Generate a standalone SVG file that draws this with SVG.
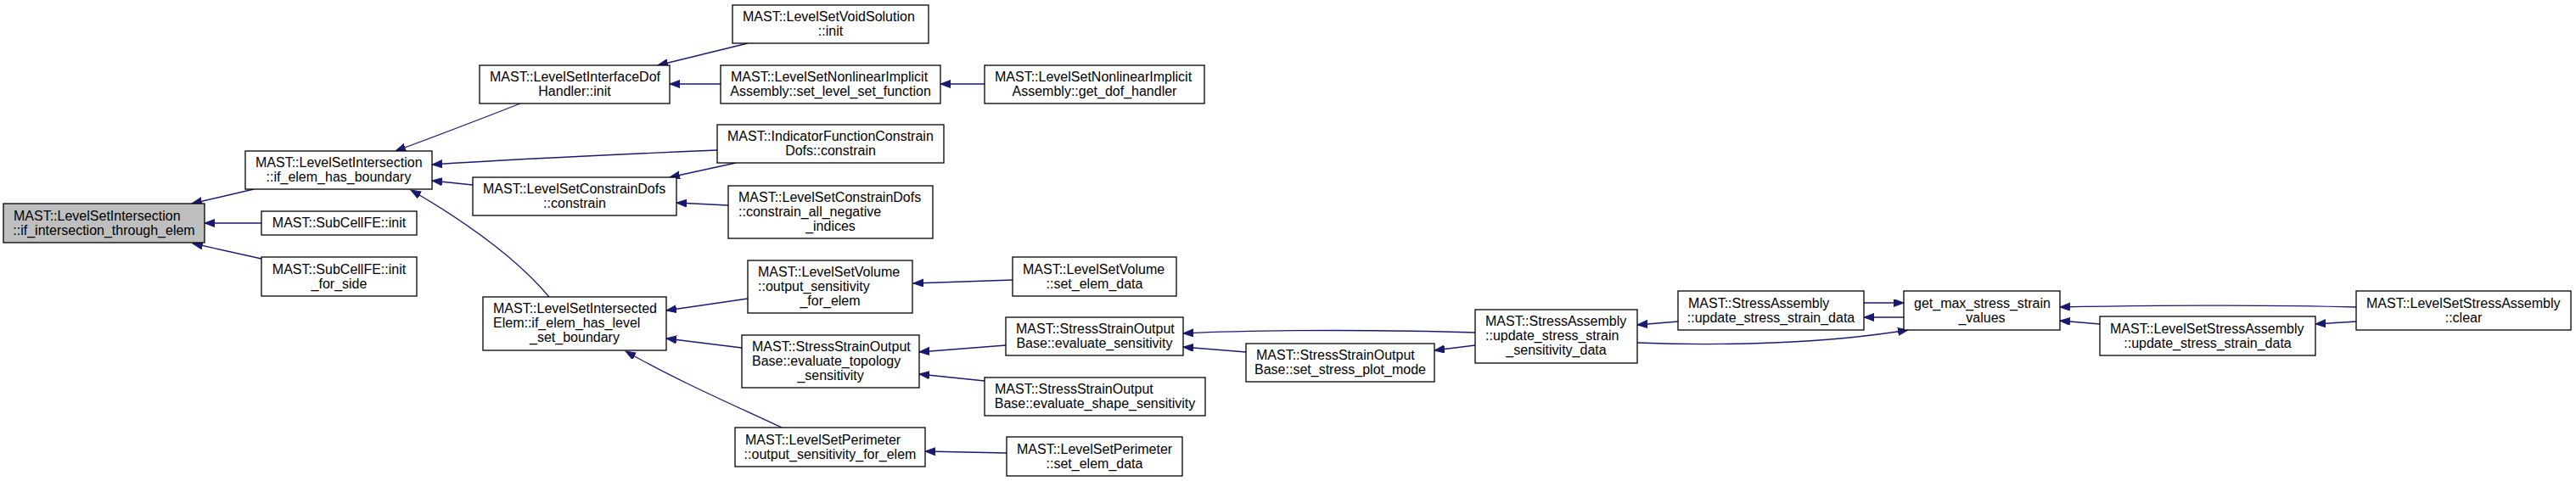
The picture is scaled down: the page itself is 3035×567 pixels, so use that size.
<svg xmlns="http://www.w3.org/2000/svg" width="3035" height="567" viewBox="0 0 3035 567">
<style>
.n rect{fill:#fff;stroke:#000;stroke-width:1.3}
.n.main rect{fill:#bfbfbf}
.n text{font-family:"Liberation Sans",Arial,Helvetica,sans-serif;font-size:16px;fill:#000}
.l{text-anchor:start}
.c{text-anchor:middle}
#edges path{fill:none;stroke:#191970;stroke-width:1.3;marker-end:url(#a)}
</style>
<defs>
<marker id="a" markerWidth="14" markerHeight="11" refX="12" refY="4.5" orient="auto" markerUnits="userSpaceOnUse">
<path d="M0,0 L12,4.5 L0,9 z" fill="#191970" stroke="#191970" stroke-width="1"/>
</marker>
</defs>
<rect width="3035" height="567" fill="#fff"/>
<g id="edges">
<path d="M299,223 L226,240"/>
<path d="M308,263 L241,263"/>
<path d="M308,305 L227,287"/>
<path d="M613,122 C580,135 520,158 466,178"/>
<path d="M845,177 C700,183 600,188 509,194"/>
<path d="M557,218 L509,213"/>
<path d="M647,350 C615,312 560,268 484,224"/>
<path d="M881,51 L775,77"/>
<path d="M849,99 L789,99"/>
<path d="M1160,99 L1108,99"/>
<path d="M867,192 L789,209"/>
<path d="M858,242 L797,239"/>
<path d="M881,352 L785,366"/>
<path d="M874,410 L785,399"/>
<path d="M921,504 C870,480 800,450 737,414"/>
<path d="M1193,330 L1076,334"/>
<path d="M1185,407 L1083,415"/>
<path d="M1160,449 L1083,441"/>
<path d="M1186,534 L1090,532"/>
<path d="M1738,392 C1650,389 1500,388 1394,393"/>
<path d="M1468,415 L1394,409"/>
<path d="M1738,407 L1690,413"/>
<path d="M1977,379 L1929,383"/>
<path d="M2196,357 L2243,357"/>
<path d="M2243,374 L2196,374"/>
<path d="M1929,404 C2030,408 2150,405 2248,389"/>
<path d="M2776,362 C2700,360 2550,359 2427,362"/>
<path d="M2474,382 L2427,378"/>
<path d="M2776,379 L2728,382"/>
</g>
<g id="n0" class="n main"><rect x="4" y="240" width="237" height="46"/><text class="l" x="16" y="259.5">MAST::LevelSetIntersection</text><text class="c" x="122.5" y="276.5">::if_intersection_through_elem</text></g>
<g id="n1" class="n"><rect x="289" y="178" width="220" height="45"/><text class="l" x="301" y="197">MAST::LevelSetIntersection</text><text class="c" x="399" y="214">::if_elem_has_boundary</text></g>
<g id="n2" class="n"><rect x="308" y="249" width="183" height="28"/><text class="c" x="399.5" y="268">MAST::SubCellFE::init</text></g>
<g id="n3" class="n"><rect x="308" y="303" width="183" height="46"/><text class="c" x="399.5" y="322.5">MAST::SubCellFE::init</text><text class="c" x="399.5" y="339.5">_for_side</text></g>
<g id="n4" class="n"><rect x="565" y="77" width="224" height="45"/><text class="l" x="577" y="96">MAST::LevelSetInterfaceDof</text><text class="c" x="677" y="113">Handler::init</text></g>
<g id="n5" class="n"><rect x="557" y="209" width="240" height="45"/><text class="l" x="569" y="228">MAST::LevelSetConstrainDofs</text><text class="c" x="677" y="245">::constrain</text></g>
<g id="n6" class="n"><rect x="569" y="350" width="216" height="63"/><text class="l" x="581" y="369">MAST::LevelSetIntersected</text><text class="l" x="581" y="386">Elem::if_elem_has_level</text><text class="c" x="677" y="403">_set_boundary</text></g>
<g id="n7" class="n"><rect x="863" y="6" width="231" height="45"/><text class="l" x="875" y="25">MAST::LevelSetVoidSolution</text><text class="c" x="978.5" y="42">::init</text></g>
<g id="n8" class="n"><rect x="849" y="77" width="259" height="45"/><text class="l" x="861" y="96">MAST::LevelSetNonlinearImplicit</text><text class="c" x="978.5" y="113">Assembly::set_level_set_function</text></g>
<g id="n9" class="n"><rect x="845" y="147" width="267" height="45"/><text class="l" x="857" y="166">MAST::IndicatorFunctionConstrain</text><text class="c" x="978.5" y="183">Dofs::constrain</text></g>
<g id="n10" class="n"><rect x="858" y="219" width="241" height="62"/><text class="l" x="870" y="237.5">MAST::LevelSetConstrainDofs</text><text class="l" x="870" y="254.5">::constrain_all_negative</text><text class="c" x="978.5" y="271.5">_indices</text></g>
<g id="n11" class="n"><rect x="881" y="307" width="194" height="62"/><text class="l" x="893" y="325.5">MAST::LevelSetVolume</text><text class="l" x="893" y="342.5">::output_sensitivity</text><text class="c" x="978" y="359.5">_for_elem</text></g>
<g id="n12" class="n"><rect x="874" y="395" width="209" height="62"/><text class="l" x="886" y="413.5">MAST::StressStrainOutput</text><text class="l" x="886" y="430.5">Base::evaluate_topology</text><text class="c" x="978.5" y="447.5">_sensitivity</text></g>
<g id="n13" class="n"><rect x="866" y="504" width="224" height="46"/><text class="l" x="878" y="523.5">MAST::LevelSetPerimeter</text><text class="c" x="978" y="540.5">::output_sensitivity_for_elem</text></g>
<g id="n14" class="n"><rect x="1160" y="77" width="259" height="45"/><text class="l" x="1172" y="96">MAST::LevelSetNonlinearImplicit</text><text class="c" x="1289.5" y="113">Assembly::get_dof_handler</text></g>
<g id="n15" class="n"><rect x="1193" y="303" width="193" height="46"/><text class="l" x="1205" y="322.5">MAST::LevelSetVolume</text><text class="c" x="1289.5" y="339.5">::set_elem_data</text></g>
<g id="n16" class="n"><rect x="1185" y="374" width="209" height="45"/><text class="l" x="1197" y="393">MAST::StressStrainOutput</text><text class="c" x="1289.5" y="410">Base::evaluate_sensitivity</text></g>
<g id="n17" class="n"><rect x="1160" y="445" width="260" height="45"/><text class="l" x="1172" y="464">MAST::StressStrainOutput</text><text class="c" x="1290" y="481">Base::evaluate_shape_sensitivity</text></g>
<g id="n18" class="n"><rect x="1186" y="515" width="207" height="46"/><text class="l" x="1198" y="534.5">MAST::LevelSetPerimeter</text><text class="c" x="1289.5" y="551.5">::set_elem_data</text></g>
<g id="n19" class="n"><rect x="1468" y="405" width="222" height="45"/><text class="l" x="1480" y="424">MAST::StressStrainOutput</text><text class="c" x="1579" y="441">Base::set_stress_plot_mode</text></g>
<g id="n20" class="n"><rect x="1738" y="365" width="191" height="63"/><text class="l" x="1750" y="384">MAST::StressAssembly</text><text class="l" x="1750" y="401">::update_stress_strain</text><text class="c" x="1833.5" y="418">_sensitivity_data</text></g>
<g id="n21" class="n"><rect x="1977" y="343" width="219" height="46"/><text class="l" x="1989" y="362.5">MAST::StressAssembly</text><text class="c" x="2086.5" y="379.5">::update_stress_strain_data</text></g>
<g id="n22" class="n"><rect x="2243" y="343" width="184" height="46"/><text class="l" x="2255" y="362.5">get_max_stress_strain</text><text class="c" x="2335" y="379.5">_values</text></g>
<g id="n23" class="n"><rect x="2474" y="373" width="254" height="46"/><text class="l" x="2486" y="392.5">MAST::LevelSetStressAssembly</text><text class="c" x="2601" y="409.5">::update_stress_strain_data</text></g>
<g id="n24" class="n"><rect x="2776" y="343" width="253" height="46"/><text class="l" x="2788" y="362.5">MAST::LevelSetStressAssembly</text><text class="c" x="2902.5" y="379.5">::clear</text></g>
</svg>
